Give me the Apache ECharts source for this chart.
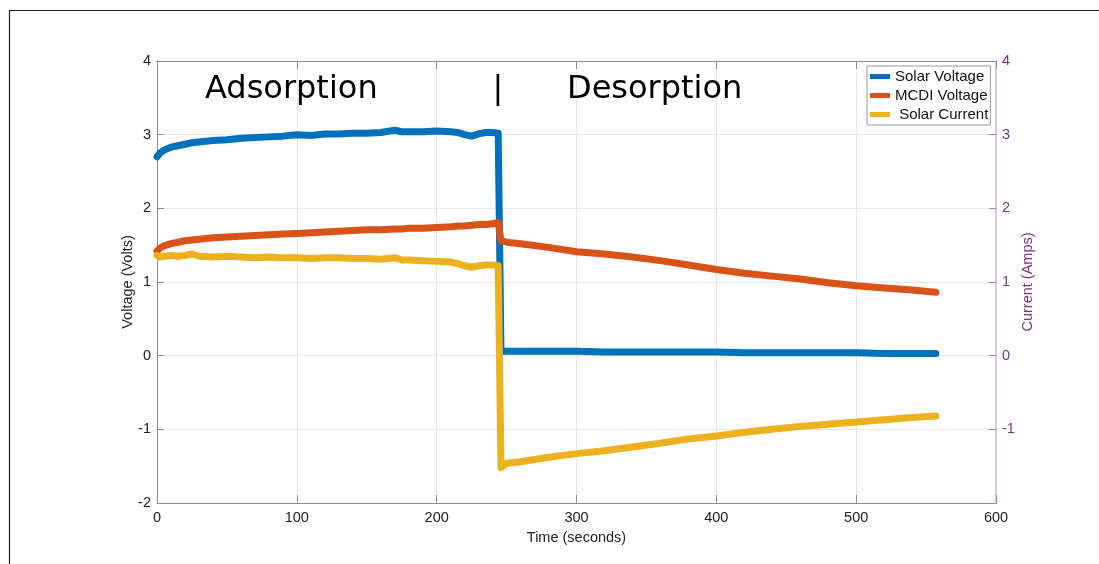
<!DOCTYPE html>
<html>
<head>
<meta charset="utf-8">
<script src="https://cdn.jsdelivr.net/npm/echarts@6/dist/echarts.min.js"></script>
<style>
  html, body { margin: 0; padding: 0; background: #ffffff; }
  #chart { width: 1099px; height: 564px; }
</style>
</head>
<body>
<div id="chart"></div>
<script>
// Time axis (seconds) shared by all three traces
const timeSec = [0, 2, 5, 10, 15, 20, 25, 30, 40, 50, 60, 70, 80, 90, 100, 110, 120, 130, 140, 150,
  160, 170, 175, 180, 190, 200, 210, 215, 220, 225, 230, 235, 240, 244, 246, 250, 260, 280, 300, 320,
  340, 360, 380, 400, 420, 440, 460, 480, 500, 520, 540, 557];

// Solar panel voltage (V)
const solarVoltage = [2.70, 2.75, 2.79, 2.83, 2.85, 2.87, 2.89, 2.90, 2.92, 2.93, 2.95, 2.96, 2.97, 2.98, 3.00, 2.99, 3.01, 3.01, 3.02, 3.02,
  3.03, 3.06, 3.04, 3.04, 3.04, 3.05, 3.04, 3.03, 3.00, 2.98, 3.01, 3.03, 3.03, 3.02, 0.06, 0.06, 0.06, 0.06, 0.06, 0.05,
  0.05, 0.05, 0.05, 0.05, 0.04, 0.04, 0.04, 0.04, 0.04, 0.03, 0.03, 0.03];

// MCDI cell voltage (V)
const mcdiVoltage = [1.42, 1.46, 1.49, 1.52, 1.54, 1.56, 1.57, 1.58, 1.60, 1.61, 1.62, 1.63, 1.64, 1.65, 1.66, 1.67, 1.68, 1.69, 1.70, 1.71,
  1.71, 1.72, 1.72, 1.73, 1.73, 1.74, 1.75, 1.76, 1.76, 1.77, 1.78, 1.78, 1.79, 1.81, 1.56, 1.54, 1.52, 1.47, 1.41, 1.38,
  1.34, 1.29, 1.23, 1.17, 1.12, 1.08, 1.04, 0.99, 0.95, 0.92, 0.89, 0.86];

// Solar current (A), right axis
const solarCurrent = [1.36, 1.34, 1.35, 1.36, 1.35, 1.36, 1.38, 1.35, 1.34, 1.35, 1.34, 1.33, 1.34, 1.33, 1.33, 1.32, 1.33, 1.33, 1.32, 1.32,
  1.31, 1.33, 1.30, 1.30, 1.29, 1.28, 1.27, 1.25, 1.22, 1.20, 1.22, 1.23, 1.23, 1.22, -1.52, -1.46, -1.44, -1.38, -1.33, -1.29,
  -1.24, -1.19, -1.13, -1.09, -1.04, -1.00, -0.96, -0.93, -0.90, -0.87, -0.84, -0.82];

const seriesNames = ['Solar Voltage', 'MCDI Voltage', ' Solar Current'];
const xTicks = { min: 0, max: 600, step: 100 };
const yTicks = { min: -2, max: 4, step: 1 };

const pairs = vals => timeSec.map((t, i) => [t, vals[i]]);

const chart = echarts.init(document.getElementById('chart'), null, { renderer: 'canvas' });

const axisGray = '#8c8c8c';
const purple = '#7E2F8E';
const sans = 'Liberation Sans, Arial, sans-serif';

const lineStyleFor = color => ({ color: color, width: 7, cap: 'round', join: 'round' });

chart.setOption({
  animation: false,
  backgroundColor: '#ffffff',
  color: ['#0072BD', '#D95319', '#EDB120'],
  grid: { left: 157, right: 103, top: 61, bottom: 61 },
  legend: {
    data: seriesNames,
    orient: 'vertical',
    left: 867,
    top: 66,
    icon: 'rect',
    itemWidth: 20,
    itemHeight: 5,
    itemGap: 0,
    padding: [1, 2, 1, 3],
    backgroundColor: '#ffffff',
    borderColor: '#9a9a9a',
    borderWidth: 1,
    textStyle: { fontFamily: sans, fontSize: 15, color: '#111', lineHeight: 19 }
  },
  xAxis: [{
    type: 'value',
    position: 'bottom',
    min: xTicks.min, max: xTicks.max, interval: xTicks.step,
    name: 'Time (seconds)',
    nameLocation: 'middle',
    nameGap: 27,
    nameMoveOverlap: false,
    nameTextStyle: { fontFamily: sans, fontSize: 14.5, color: '#222' },
    axisLine: { show: true, onZero: false, lineStyle: { color: axisGray, width: 1 } },
    axisTick: { show: true, inside: true, length: 8, lineStyle: { color: axisGray } },
    axisLabel: { fontFamily: sans, fontSize: 14.5, color: '#222', margin: 7 },
    splitLine: { show: true, lineStyle: { color: '#e8e8e8', width: 1 } }
  }, {
    type: 'value',
    position: 'top',
    min: xTicks.min, max: xTicks.max, interval: xTicks.step,
    axisLine: { show: true, onZero: false, lineStyle: { color: axisGray, width: 1 } },
    axisTick: { show: true, inside: true, length: 8, lineStyle: { color: axisGray } },
    axisLabel: { show: false },
    splitLine: { show: false }
  }],
  yAxis: [{
    type: 'value',
    position: 'left',
    min: yTicks.min, max: yTicks.max, interval: yTicks.step,
    name: 'Voltage (Volts)',
    nameLocation: 'middle',
    nameGap: 22,
    nameMoveOverlap: false,
    nameTextStyle: { fontFamily: sans, fontSize: 14.5, color: '#222' },
    axisLine: { show: true, onZero: false, lineStyle: { color: axisGray, width: 1 } },
    axisTick: { show: true, inside: true, length: 7, lineStyle: { color: axisGray } },
    axisLabel: { fontFamily: sans, fontSize: 14.5, color: '#222', margin: 6 },
    splitLine: { show: true, lineStyle: { color: '#e8e8e8', width: 1 } }
  }, {
    type: 'value',
    position: 'right',
    min: yTicks.min, max: yTicks.max, interval: yTicks.step,
    name: 'Current (Amps)',
    nameLocation: 'middle',
    nameGap: 24,
    nameMoveOverlap: false,
    nameTextStyle: { fontFamily: sans, fontSize: 14.5, color: purple },
    axisLine: { show: true, onZero: false, lineStyle: { color: '#d2b6de', width: 1.5 } },
    axisTick: { show: true, inside: true, length: 7, lineStyle: { color: '#a47bb4' } },
    axisLabel: {
      fontFamily: sans, fontSize: 14.5, color: purple, margin: 6,
      formatter: v => (v <= -2 ? '' : String(v))
    },
    splitLine: { show: false }
  }],
  series: [{
    name: seriesNames[0],
    type: 'line',
    xAxisIndex: 0, yAxisIndex: 0,
    data: pairs(solarVoltage),
    showSymbol: false,
    lineStyle: lineStyleFor('#0072BD'),
    z: 2
  }, {
    name: seriesNames[1],
    type: 'line',
    xAxisIndex: 0, yAxisIndex: 0,
    data: pairs(mcdiVoltage),
    showSymbol: false,
    lineStyle: lineStyleFor('#D95319'),
    z: 3
  }, {
    name: seriesNames[2],
    type: 'line',
    xAxisIndex: 0, yAxisIndex: 1,
    data: pairs(solarCurrent),
    showSymbol: false,
    lineStyle: lineStyleFor('#EDB120'),
    z: 4
  }],
  graphic: [{
    type: 'rect',
    silent: true,
    shape: { x: 9.5, y: 10.5, width: 1300, height: 800 },
    style: { fill: 'none', stroke: '#1a1a1a', lineWidth: 1.2 }
  }, {
    type: 'text',
    silent: true,
    x: 205, y: 90,
    style: { text: 'Adsorption', font: '32px "DejaVu Sans"', fill: '#000', align: 'left', verticalAlign: 'middle' },
    z: 10
  }, {
    type: 'text',
    silent: true,
    x: 498, y: 90,
    style: { text: '|', font: '32px "DejaVu Sans"', fill: '#000', align: 'center', verticalAlign: 'middle' },
    z: 10
  }, {
    type: 'text',
    silent: true,
    x: 567, y: 90,
    style: { text: 'Desorption', font: '32px "DejaVu Sans"', fill: '#000', align: 'left', verticalAlign: 'middle' },
    z: 10
  }]
});
</script>
</body>
</html>
